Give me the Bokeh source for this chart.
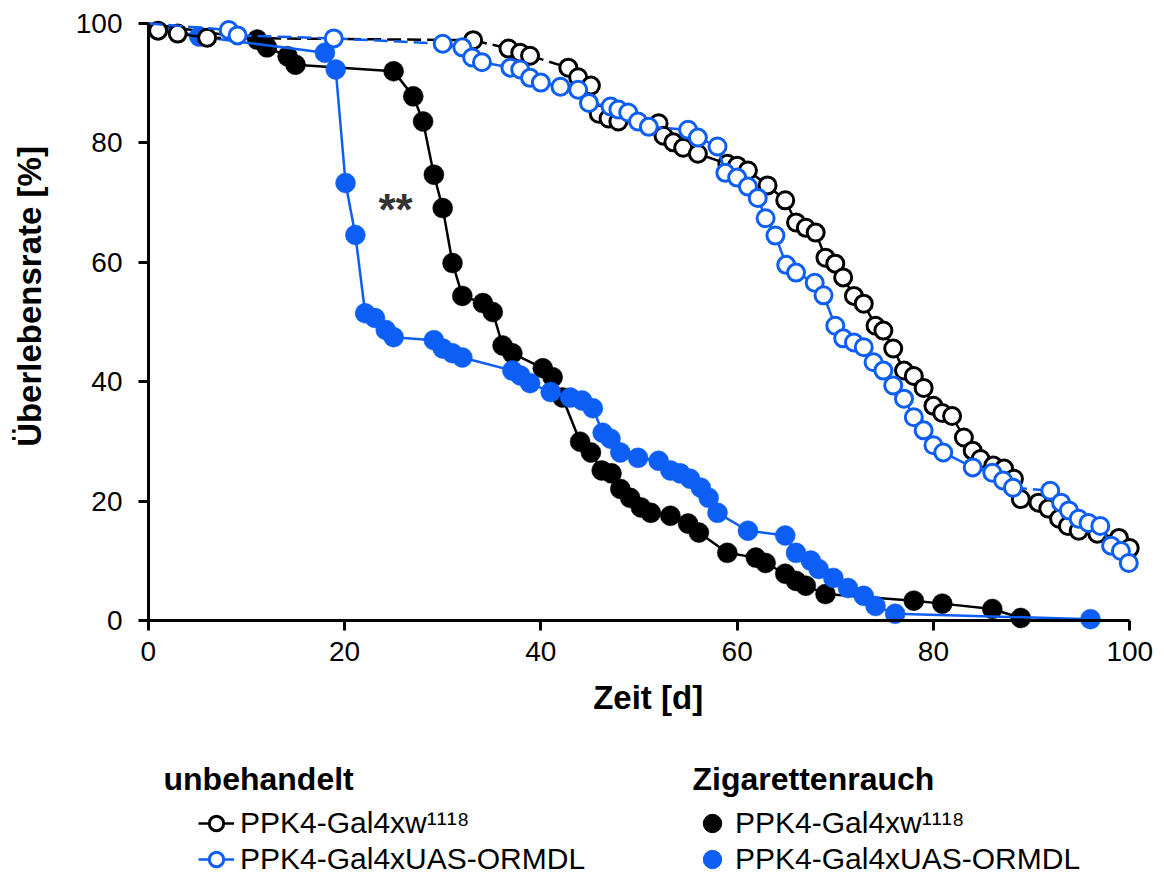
from bokeh.plotting import figure
from bokeh.models import Range1d, FixedTicker, Label, Legend, LegendItem, ColumnDataSource, LinearAxis
from bokeh.layouts import column
from bokeh.embed import file_html
from bokeh.resources import INLINE

FONT = "Liberation Sans"
BLACK = "#000000"
BLUE = "#0d5ef4"

# ---------------- data ----------------
ticks = [0, 20, 40, 60, 80, 100]

# unbehandelt, PPK4-Gal4xw1118 (open black)
days_ctrl_w = [0, 1, 3, 6, 33.1, 36.7, 37.9, 38.9, 42.8, 43.8, 45.1, 45.9, 46.9, 47.9,
               52, 52.5, 53.5, 54.5, 56, 59, 60, 61.1, 63.1, 64.9, 66, 67, 68, 69, 70, 70.8,
               71.9, 72.9, 74.1, 74.9, 75.9, 77, 78, 79, 80, 80.9, 81.9, 83.1, 84, 84.8,
               86.1, 87.2, 88.2, 88.9, 90.7, 91.7, 92.8, 93.7, 94.8, 96.7, 98.9, 100]
surv_ctrl_w = [100, 98.8, 98.3, 97.6, 97.2, 95.8, 95.1, 94.6, 92.6, 91, 89.6, 84.9, 84.1, 83.6,
               83.3, 81.2, 80.1, 79.2, 78.2, 76.5, 76.2, 75.4, 72.9, 70.4, 66.7, 65.8, 65, 60.8, 59.8, 57.5,
               54.4, 53.1, 49.4, 48.6, 45.6, 41.9, 41, 39, 36, 34.8, 34.3, 30.7, 28.5, 27.1,
               26, 25.5, 23.8, 20.4, 19.8, 18.8, 17.1, 15.9, 15.1, 14.6, 13.9, 12.2]

# unbehandelt, PPK4-Gal4xUAS-ORMDL (open blue)
days_ctrl_o = [0, 8.2, 9.1, 18.9, 30, 32, 33, 34, 36.9, 37.9, 38.9, 40, 42, 43.8,
               44.9, 47.1, 47.9, 48.9, 49.9, 51, 55, 56, 58, 58.8, 60, 61.1,
               62.1, 62.9, 63.9, 65, 66, 67.9, 68.8, 70, 70.8, 71.9, 72.9, 73.9,
               74.9, 75.9, 77, 78, 79, 80, 81, 84, 86, 87.1, 88.1,
               91.9, 93, 93.8, 94.8, 95.8, 97, 98.1, 99.1, 99.9]
surv_ctrl_o = [100, 98.9, 98, 97.5, 96.6, 96, 94.3, 93.5, 92.6, 92.3, 90.9, 90.1, 89.4, 88.9,
               86.7, 86.1, 85.6, 85.1, 83.6, 82.7, 82.2, 80.9, 79.4, 75, 74.2, 72.7,
               70.8, 67.4, 64.5, 59.6, 58.3, 56.6, 54.5, 49.4, 47.3, 46.6, 45.8, 43.3,
               41.9, 39.4, 37.2, 34.1, 31.9, 29.4, 28.2, 25.7, 24.8, 23.5, 22.3,
               21.8, 19.8, 18.5, 17.1, 16.4, 15.9, 12.6, 11.7, 9.7]

# Zigarettenrauch, PPK4-Gal4xw1118 (filled black)
days_smoke_w = [0, 11.1, 12.1, 14.2, 15, 25, 27, 28, 29.1, 30, 31, 32, 34.1, 35.1, 36.1, 37.1,
                40.2, 41.2, 42.2, 44, 45.1, 46.2, 47.2, 48.1, 49.1, 50.2, 51.2, 53.2, 55, 56.1,
                59, 61.9, 62.9, 64.9, 66, 67, 69, 78, 80.9, 86, 88.9]
surv_smoke_w = [100, 97.3, 96, 94.5, 93.1, 92, 87.8, 83.6, 74.7, 69.1, 59.9, 54.4, 53.2, 51.7, 46.1, 44.8,
                42.3, 40.8, 37.4, 30, 28.2, 25.2, 24.7, 22.1, 20.6, 19, 18.1, 17.6, 16.3, 14.8,
                11.4, 10.6, 9.7, 7.9, 6.7, 5.9, 4.5, 3.4, 2.9, 2, 0.5]

# Zigarettenrauch, PPK4-Gal4xUAS-ORMDL (filled blue)
days_smoke_o = [0, 5.2, 18, 19.1, 20.1, 21.1, 22.1, 23.1, 24.2, 25, 29.1, 30, 31, 32,
                37.1, 37.9, 38.9, 41, 43, 44.2, 45.3, 46.3, 47.1, 48.1, 49.9, 52,
                53.2, 54.2, 55.2, 56.3, 57.1, 58, 61.1, 64.9, 66, 67.5, 68.3, 69.8,
                71.3, 72.9, 74.1, 76.1, 96]
surv_smoke_o = [100, 97.8, 95.1, 92.3, 73.3, 64.6, 51.5, 50.7, 48.7, 47.5, 47, 45.6, 44.8, 44.1,
                41.9, 41.1, 39.8, 38.3, 37.4, 36.9, 35.6, 31.5, 30.5, 28.2, 27.3, 26.8,
                25.2, 24.7, 23.8, 22.3, 20.6, 18.1, 15.1, 14.3, 11.4, 10.1, 8.7, 7.2,
                5.5, 4.2, 2.5, 1.2, 0.3]

label_w = "PPK4-Gal4xw\u00b9\u00b9\u00b9\u2078"
label_o = "PPK4-Gal4xUAS-ORMDL"
group_ctrl = "unbehandelt"
group_smoke = "Zigarettenrauch"
x_title = "Zeit [d]"
y_title = "\u00dcberlebensrate [%]"
signif = "**"

# ---------------- main plot ----------------
W = 1157
BL, BR = 135, 15
p = figure(width=W, height=730, x_range=Range1d(-1.3, 101.3), y_range=Range1d(-2.1, 101.5),
           output_backend="svg", toolbar_location=None,
           min_border_left=BL, min_border_right=BR, min_border_top=14, min_border_bottom=97)
p.grid.visible = False
p.outline_line_color = None
p.background_fill_color = "white"

# label-only axes at the frame edges
for ax in (p.xaxis[0], p.yaxis[0]):
    ax.ticker = FixedTicker(ticks=ticks)
    ax.axis_line_color = None
    ax.major_tick_line_color = None
    ax.major_tick_in = 0
    ax.major_tick_out = 0
    ax.minor_tick_line_color = None
    ax.major_label_text_font = FONT
    ax.major_label_text_font_size = "28px"
    ax.major_label_text_color = "black"
    ax.axis_label_text_font = FONT
    ax.axis_label_text_font_style = "bold"
    ax.axis_label_text_font_size = "33px"
    ax.axis_label_text_color = "black"

p.xaxis.axis_label = "\u00a0\u00a0" + x_title
p.yaxis.axis_label = "\u00a0" * 6 + y_title
p.xaxis.major_label_standoff = 8
p.yaxis.major_label_standoff = 13
p.xaxis.axis_label_standoff = 15
p.yaxis.axis_label_standoff = 25

# axis lines + ticks placed exactly at the data origin (ticks pointing outwards)
for side in ("right", "above"):
    ax = LinearAxis(fixed_location=0, bounds=(0, 100), ticker=FixedTicker(ticks=ticks),
                    axis_line_width=3, axis_line_color="black",
                    major_tick_line_width=3, major_tick_line_color="black",
                    major_tick_in=10, major_tick_out=0, minor_tick_line_color=None,
                    major_label_text_font_size="1px", major_label_text_color=None,
                    major_label_text_alpha=0, major_label_standoff=0)
    p.add_layout(ax, side)


def split_segments(xs, ys, gap):
    solid = dict(x0=[], y0=[], x1=[], y1=[])
    dashed = dict(x0=[], y0=[], x1=[], y1=[])
    for i in range(len(xs) - 1):
        d = dashed if xs[i + 1] - xs[i] >= gap else solid
        d["x0"].append(xs[i]); d["y0"].append(ys[i])
        d["x1"].append(xs[i + 1]); d["y1"].append(ys[i + 1])
    return ColumnDataSource(solid), ColumnDataSource(dashed)


LW = 2.5
# filled series (smoke)
for xs, ys, col in ((days_smoke_w, surv_smoke_w, BLACK), (days_smoke_o, surv_smoke_o, BLUE)):
    p.line(xs, ys, line_color=col, line_width=LW)
    p.scatter(xs[1:], ys[1:], marker="circle", size=20, fill_color=col, line_color=col, line_width=0.5)

# open series (untreated)
for xs, ys, col in ((days_ctrl_w, surv_ctrl_w, BLACK), (days_ctrl_o, surv_ctrl_o, BLUE)):
    s_solid, s_dash = split_segments(xs, ys, 3.5)
    p.segment("x0", "y0", "x1", "y1", source=s_solid, line_color=col, line_width=LW)
    p.segment("x0", "y0", "x1", "y1", source=s_dash, line_color=col, line_width=LW, line_dash="14 6")
    p.scatter(xs[1:], ys[1:], marker="circle", size=17, fill_color="white", line_color=col, line_width=3)

p.add_layout(Label(x=25.2, y=68.9, text=signif, text_align="center", text_baseline="middle",
                   text_font=FONT, text_font_style="bold", text_font_size="44px", text_color="#333333"))

# ---------------- legend area ----------------
H2 = 149
p2 = figure(width=W, height=H2, x_range=Range1d(0, 1), y_range=Range1d(0, 1),
            x_axis_type=None, y_axis_type=None, output_backend="svg", toolbar_location=None,
            min_border_left=BL, min_border_right=BR, min_border_top=0, min_border_bottom=0)
p2.outline_line_color = None
p2.grid.visible = False

# legend proxies (kept outside the visible range of this legend-only figure)
px, py = [-10], [-10]
r_cw_line = p2.line(x=px, y=py, line_color=BLACK, line_width=LW)
r_cw_mark = p2.scatter(x=px, y=py, marker="circle", size=14, fill_color="white", line_color=BLACK, line_width=3)
r_co_line = p2.line(x=px, y=py, line_color=BLUE, line_width=LW)
r_co_mark = p2.scatter(x=px, y=py, marker="circle", size=14, fill_color="white", line_color=BLUE, line_width=3)
r_sw_mark = p2.scatter(x=px, y=py, marker="circle", size=19, fill_color=BLACK, line_color=BLACK)
r_so_mark = p2.scatter(x=px, y=py, marker="circle", size=19, fill_color=BLUE, line_color=BLUE)

common = dict(orientation="vertical", border_line_color=None, background_fill_alpha=0,
              padding=0, margin=0, spacing=0,
              label_text_font=FONT, label_text_font_size="30px", label_text_color="black")
leg1 = Legend(items=[LegendItem(label=label_w, renderers=[r_cw_line, r_cw_mark]),
                     LegendItem(label=label_o, renderers=[r_co_line, r_co_mark])],
              location=(63, 2), glyph_width=36, glyph_height=36, label_height=36,
              label_standoff=6, **common)
p2.add_layout(leg1)
# smoke group: one legend per row so the filled dots can be drawn larger
for item, ybot in ((LegendItem(label=label_w, renderers=[r_sw_mark]), 32),
                   (LegendItem(label=label_o, renderers=[r_so_mark]), -4)):
    p2.add_layout(Legend(items=[item], location=(554, ybot), glyph_width=46, glyph_height=48,
                         label_height=48, label_standoff=0, **common))

for txt, xpos in ((group_ctrl, 28), (group_smoke, 557)):
    p2.add_layout(Label(x=xpos, y=101, x_units="screen", y_units="screen", text=txt,
                        text_font=FONT, text_font_style="bold", text_font_size="32px",
                        text_baseline="middle", text_color="black"))

layout = column(p, p2, spacing=0)
open("out.html", "w").write(file_html(layout, INLINE))
